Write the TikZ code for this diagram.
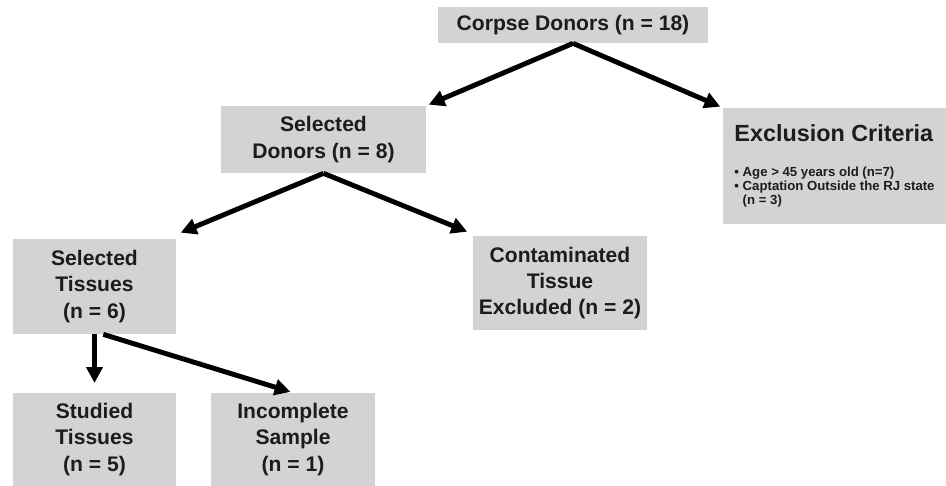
\documentclass[tikz,border=0pt]{standalone}
\usepackage{fontspec}
\setmainfont{Liberation Sans}
\usetikzlibrary{arrows.meta}
\definecolor{boxgrey}{RGB}{211,211,211}
\definecolor{inkcol}{RGB}{28,28,28}

\begin{document}
\begin{tikzpicture}[x=0.02cm, y=-0.02cm,
  box/.style={fill=boxgrey, text=inkcol, font=\fontsize{12}{15}\selectfont\bfseries, align=center, inner sep=2pt},
  crit/.style={fill=boxgrey, text=inkcol, font=\fontsize{7.5}{8}\selectfont\bfseries, align=left, inner sep=0pt,
    minimum width=4.46cm, minimum height=2.32cm},
  arr/.style={-{Triangle[length=9pt,width=9pt]}, line width=2.8pt, shorten >=1.5pt}]
  \useasboundingbox (0,0) rectangle (946,486);
  % boxes
  \node[box, minimum width=5.4cm, minimum height=0.72cm] (corpse) at (573,25) {Corpse Donors (n = 18)};
  \node[box, minimum width=4.1cm, minimum height=1.34cm] (seldon) at (323.5,139.5) {Selected\\Donors (n = 8)};
  \node[crit] (excl) at (834.5,166) {{\fontsize{13.3}{16}\selectfont Exclusion Criteria}\\[12pt]
    \textbullet\ Age > 45 years old (n=7)\\
    \textbullet\ Captation Outside the RJ state\\
    \hphantom{\textbullet\ }(n = 3)};
  \node[box, minimum width=3.26cm, minimum height=1.9cm] (seltis) at (94.5,286.5) {Selected\\Tissues\\(n = 6)};
  \node[box, minimum width=3.48cm, minimum height=1.88cm] (contam) at (560,283) {Contaminated\\Tissue\\Excluded (n = 2)};
  \node[box, minimum width=3.26cm, minimum height=1.86cm] (studied) at (94.5,439.5) {Studied\\Tissues\\(n = 5)};
  \node[box, minimum width=3.28cm, minimum height=1.86cm] (incompl) at (293,439.5) {Incomplete\\Sample\\(n = 1)};
  % arrows
  \draw[arr] (corpse.south) -- (seldon.north east);
  \draw[arr] (corpse.south) -- (excl.north west);
  \draw[arr] (seldon.south) -- ([shift={(2,-5)}]seltis.north east);
  \draw[arr] (seldon.south) -- ([shift={(-3,-3)}]contam.north west);
  \draw[arr] (seltis.south) -- ([yshift=4]studied.north);
  \draw[arr] ([xshift=5]seltis.south) -- (incompl.north);
\end{tikzpicture}
\end{document}
